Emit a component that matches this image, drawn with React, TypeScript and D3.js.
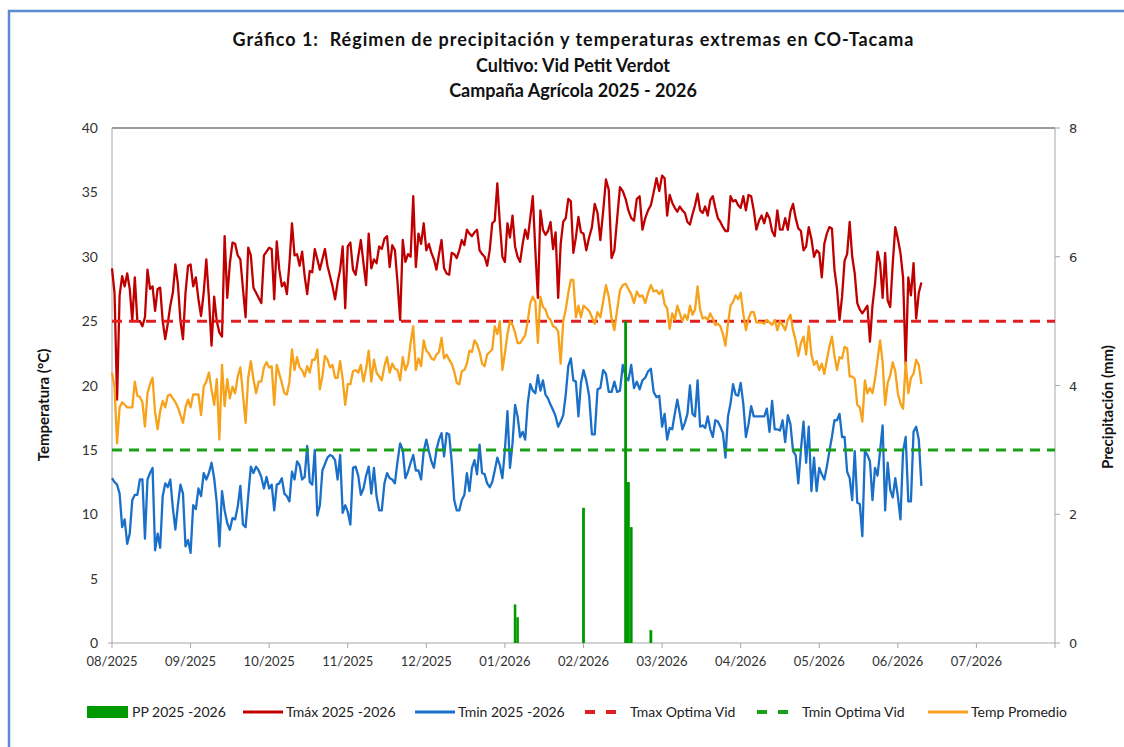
import React from 'react';
import * as d3 from 'd3';

// daily series, starting 2025-08-01
const startDate = new Date(2025, 7, 1);

const tmax: number[] = [
  29.1, 27.2, 18.9, 27.0, 28.5, 27.7, 28.7, 27.5, 25.0, 28.4,
  25.0, 25.0, 24.6, 25.3, 29.0, 27.5, 27.7, 25.8, 27.5, 27.6,
  25.0, 23.6, 24.8, 26.2, 27.2, 29.4, 27.9, 25.0, 23.6, 27.2,
  29.3, 29.4, 27.7, 28.4, 26.7, 25.4, 27.2, 29.8, 26.8, 23.1,
  26.9, 25.0, 24.1, 23.8, 31.6, 26.8, 29.5, 31.1, 31.0, 30.1,
  29.8, 27.5, 25.3, 30.7, 30.1, 27.6, 27.2, 26.8, 26.4, 30.1,
  30.4, 30.7, 30.6, 26.7, 31.2, 29.0, 27.7, 28.0, 27.1, 29.5,
  32.6, 30.1, 30.2, 29.3, 30.4, 28.5, 27.1, 28.9, 28.8, 30.6,
  29.8, 29.0, 29.8, 30.6, 29.3, 28.5, 27.7, 26.7, 28.0, 29.0,
  30.8, 26.0, 30.8, 31.1, 29.0, 28.6, 30.0, 31.3, 29.5, 27.8,
  31.8, 29.1, 29.8, 29.5, 30.8, 30.6, 31.4, 31.6, 29.2, 30.9,
  30.5, 28.0, 25.1, 31.3, 29.6, 30.2, 30.0, 34.7, 29.2, 31.8,
  31.0, 32.6, 30.5, 31.0, 30.3, 29.8, 29.0, 30.2, 31.3, 29.1,
  28.7, 28.6, 30.3, 30.2, 29.9, 30.5, 31.3, 30.9, 32.1, 31.8,
  31.6, 31.9, 32.1, 30.5, 30.2, 30.0, 29.3, 30.5, 32.6, 32.8,
  35.7, 32.6, 30.0, 29.6, 32.6, 31.5, 33.2, 30.8, 30.0, 29.6,
  31.0, 32.1, 31.4, 33.0, 34.7, 30.5, 26.8, 33.6, 32.1, 31.7,
  32.0, 32.7, 30.6, 31.9, 26.8, 31.0, 32.7, 33.0, 34.5, 34.3,
  30.3, 31.5, 33.1, 31.9, 31.8, 30.5, 31.5, 32.3, 34.1, 33.4,
  31.3, 33.5, 36.0, 35.2, 29.9, 30.5, 33.0, 35.4, 35.1, 34.5,
  33.6, 33.0, 32.8, 34.5, 34.7, 32.1, 33.0, 33.6, 34.0, 35.0,
  36.1, 35.1, 36.3, 36.1, 33.2, 34.8, 34.2, 33.8, 33.5, 33.9,
  33.6, 33.4, 32.7, 32.5, 33.3, 34.0, 34.9, 33.6, 33.4, 33.9,
  33.2, 34.4, 34.7, 33.8, 33.0, 32.7, 32.3, 32.0, 32.0, 34.7,
  34.3, 34.4, 34.0, 33.8, 34.7, 33.6, 34.8, 34.7, 33.6, 32.1,
  32.8, 33.2, 32.6, 33.4, 33.0, 32.0, 31.6, 33.6, 32.1, 32.1,
  33.0, 32.1, 33.5, 34.1, 33.0, 32.2, 32.0, 30.5, 30.8, 32.3,
  31.4, 30.0, 30.5, 30.3, 28.4, 31.0, 31.8, 32.3, 32.2, 29.0,
  27.5, 25.1, 26.9, 29.7, 30.2, 32.7, 30.0, 28.7, 26.4, 25.9,
  25.6, 25.9, 26.2, 23.4, 26.2, 27.9, 30.4, 29.5, 26.8, 30.3,
  26.6, 26.1, 29.5, 32.3, 31.4, 30.3, 28.4, 21.6, 28.4, 27.0,
  29.5, 25.2, 27.2, 28.0,
];

const tmin: number[] = [
  12.8, 12.5, 12.3, 11.6, 9.0, 9.6, 7.7, 8.5, 11.1, 11.5,
  11.5, 12.7, 12.7, 8.1, 12.7, 13.2, 13.6, 7.2, 8.5, 7.4,
  11.4, 12.4, 12.1, 12.7, 10.5, 8.8, 10.7, 12.3, 11.6, 7.5,
  8.0, 7.0, 10.7, 10.4, 12.0, 11.4, 13.2, 12.7, 13.2, 14.0,
  12.8, 10.9, 7.5, 11.8, 10.3, 9.3, 8.8, 9.7, 9.6, 10.6,
  12.2, 9.2, 9.0, 11.4, 13.7, 13.2, 13.7, 13.4, 12.9, 12.0,
  12.9, 12.0, 12.3, 10.3, 12.3, 12.4, 12.8, 11.6, 11.4, 11.0,
  13.3, 12.7, 14.1, 13.8, 12.7, 12.9, 15.3, 12.5, 12.3, 15.0,
  9.9, 10.7, 13.4, 13.9, 14.4, 14.6, 14.5, 14.2, 12.7, 14.6,
  10.1, 10.7, 10.2, 9.2, 13.6, 13.7, 13.0, 11.5, 12.0, 13.0,
  13.7, 11.6, 13.6, 11.4, 10.3, 10.3, 12.4, 13.2, 12.8, 12.7,
  12.4, 14.1, 15.5, 15.0, 12.8, 13.3, 14.0, 14.6, 13.4, 13.4,
  12.7, 14.9, 15.8, 14.9, 14.1, 13.6, 15.0, 15.8, 16.3, 14.5,
  16.3, 16.2, 14.1, 11.1, 10.3, 10.3, 11.1, 11.5, 13.2, 11.8,
  13.6, 14.2, 13.1, 15.4, 13.2, 13.1, 12.4, 12.1, 12.5, 13.4,
  14.4, 13.8, 12.8, 15.0, 18.0, 13.6, 15.5, 18.5, 17.6, 16.0,
  16.4, 15.8, 18.6, 20.1, 19.6, 19.4, 20.8, 19.6, 20.4, 19.3,
  19.0, 18.5, 18.1, 17.6, 16.8, 17.2, 17.7, 19.3, 21.5, 22.1,
  20.4, 20.3, 17.6, 20.2, 21.2, 20.4, 19.2, 16.2, 16.2, 19.7,
  19.8, 21.2, 20.9, 19.5, 19.5, 20.3, 19.5, 19.6, 21.6, 20.7,
  20.4, 21.6, 19.8, 20.3, 19.7, 20.4, 20.6, 21.1, 21.3, 19.5,
  19.1, 19.2, 16.8, 17.8, 15.8, 16.7, 16.6, 17.8, 18.9, 17.8,
  16.6, 17.1, 17.8, 20.0, 17.8, 17.6, 20.4, 16.8, 16.9, 16.7,
  17.6, 16.6, 16.0, 17.3, 17.2, 16.8, 16.3, 14.4, 17.6, 18.6,
  20.1, 19.3, 19.2, 20.2, 18.6, 16.0, 17.0, 18.4, 17.6, 17.6,
  17.6, 17.6, 17.6, 18.2, 16.4, 18.8, 16.6, 16.6, 16.5, 17.3,
  15.6, 17.7, 17.0, 14.9, 14.6, 12.4, 15.0, 17.2, 14.0, 16.8,
  11.8, 14.4, 11.8, 13.6, 13.1, 12.7, 13.7, 14.9, 16.0, 17.3,
  17.3, 17.8, 16.0, 16.0, 13.3, 12.8, 11.1, 14.9, 10.9, 10.8,
  8.3, 14.9, 14.6, 14.1, 11.1, 13.6, 13.0, 14.9, 16.9, 10.3,
  14.0, 11.9, 11.3, 12.8, 11.4, 9.6, 14.9, 16.0, 11.0, 11.0,
  16.4, 16.8, 15.8, 12.2,
];

const tprom: number[] = [
  21.0, 19.9, 15.5, 18.3, 18.7, 18.5, 18.3, 18.3, 18.3, 20.3,
  19.2, 19.1, 18.7, 16.8, 19.4, 20.1, 20.6, 17.9, 16.6, 18.0,
  18.8, 18.3, 19.2, 19.3, 19.0, 18.7, 18.3, 17.7, 17.1, 18.3,
  18.9, 18.3, 19.3, 19.3, 19.3, 17.7, 19.9, 20.3, 21.0, 19.7,
  18.5, 20.5, 15.8, 21.6, 18.4, 20.5, 19.0, 19.9, 19.4, 20.7,
  21.4, 19.3, 17.1, 20.6, 21.9, 20.5, 19.4, 20.3, 20.3, 21.4,
  21.8, 21.4, 21.5, 18.5, 21.6, 20.9, 20.2, 19.4, 19.3, 20.3,
  22.8, 21.2, 22.2, 21.4, 21.2, 20.7, 21.5, 21.0, 22.0, 22.0,
  22.8, 19.7, 20.7, 22.3, 22.0, 21.4, 21.6, 20.6, 20.6, 21.9,
  20.5, 18.5, 20.1, 20.1, 21.1, 21.2, 21.0, 21.6, 20.3, 21.3,
  22.7, 20.3, 22.0, 21.0, 20.7, 20.4, 21.5, 22.2, 21.0, 21.7,
  21.3, 21.2, 20.4, 22.2, 21.2, 21.7, 23.3, 24.6, 21.2, 22.1,
  21.5, 23.5, 22.7, 22.5, 22.1, 22.0, 22.4, 22.6, 23.7, 22.1,
  22.4, 22.0, 21.7, 21.1, 20.2, 20.1, 21.1, 21.2, 21.7, 22.7,
  22.6, 23.5, 23.2, 22.6, 21.7, 21.5, 22.4, 22.6, 22.8, 24.6,
  24.0, 25.0, 21.2, 22.5, 24.0, 25.0, 24.7, 24.1, 23.3, 23.3,
  23.6, 23.9, 25.0, 26.4, 26.9, 26.5, 23.3, 26.9, 26.1, 25.9,
  25.3, 25.1, 24.6, 24.5, 24.2, 21.7, 25.0, 25.9, 27.2, 28.2,
  28.2, 25.3, 26.2, 25.3, 26.2, 26.0, 25.8, 25.3, 24.8, 25.7,
  25.3, 26.5, 27.8, 26.9, 25.2, 24.3, 25.9, 27.4, 27.8, 27.9,
  27.5, 27.1, 26.4, 27.3, 26.9, 27.0, 26.4, 27.2, 27.8, 27.3,
  27.4, 27.1, 27.4, 26.3, 26.0, 24.4, 25.6, 25.1, 26.2, 25.6,
  25.0, 25.5, 25.1, 26.2, 25.5, 25.9, 27.7, 25.9, 25.2, 25.3,
  25.1, 25.6, 25.2, 24.7, 24.8, 24.6, 24.0, 23.1, 24.8, 26.2,
  26.5, 27.0, 26.7, 27.2, 25.6, 24.3, 25.2, 25.7, 25.7, 24.9,
  24.9, 24.9, 24.8, 25.1, 24.9, 24.7, 25.1, 24.3, 25.0, 24.7,
  24.3, 25.1, 25.5, 24.3, 23.5, 22.3, 23.3, 23.8, 22.4, 24.6,
  22.4, 21.6, 21.9, 21.2, 21.7, 20.9, 22.0, 23.0, 23.8, 22.3,
  21.2, 22.2, 22.1, 23.0, 22.9, 20.7, 20.7, 20.5, 18.5, 18.3,
  17.2, 20.4, 19.4, 19.8, 19.4, 20.5, 22.0, 23.5, 21.8, 18.5,
  20.2, 20.8, 21.8, 21.1, 19.4, 18.6, 18.2, 21.8, 19.4, 20.6,
  20.9, 22.0, 21.6, 20.1,
];

const ppDates = ['2026-01-05', '2026-01-06', '2026-02-01', '2026-02-16', '2026-02-17', '2026-02-18', '2026-02-25'];
const ppValues = [0.6, 0.4, 2.1, 5.0, 2.5, 1.8, 0.2];

const tmaxOptima = 25;
const tminOptima = 15;

const tempTicks = [0, 5, 10, 15, 20, 25, 30, 35, 40];
const ppTicks = [0, 2, 4, 6, 8];

const titleLines = [
  'Gráfico 1:  Régimen de precipitación y temperaturas extremas en CO-Tacama',
  'Cultivo: Vid Petit Verdot',
  'Campaña Agrícola 2025 - 2026',
];

const COLORS = {
  pp: '#009a00',
  tmax: '#c00000',
  tmin: '#1a6fc9',
  tmaxOpt: '#e02020',
  tminOpt: '#18a018',
  tprom: '#f7a21b',
};

const FONT = "Lato, 'Open Sans', sans-serif";

const App: React.FC = () => {
  const width = 1124;
  const height = 747;
  const margin = { top: 128, right: 69, bottom: 104, left: 112 };
  const plotW = width - margin.left - margin.right;
  const plotH = height - margin.top - margin.bottom;

  // monthly ticks equally spaced, days placed linearly within each month
  const monthStarts = d3.timeMonth.range(new Date(2025, 7, 1), new Date(2026, 8, 1));
  const x = d3.scaleTime()
    .domain(monthStarts)
    .range(monthStarts.map((_, i) => margin.left + (i * plotW) / 12));

  const y = d3.scaleLinear().domain([0, 40]).range([margin.top + plotH, margin.top]);
  const y2 = d3.scaleLinear().domain([0, 8]).range([margin.top + plotH, margin.top]);

  const dates = tmax.map((_, i) => d3.timeDay.offset(startDate, i));
  const parse = d3.timeParse('%Y-%m-%d');
  const fmt = d3.timeFormat('%m/%Y');

  const line = d3.line<number>()
    .x((_, i) => x(dates[i]))
    .y(d => y(d));

  const x0 = margin.left;
  const x1 = margin.left + plotW;
  const yBase = margin.top + plotH;

  const legend = [
    { kind: 'rect', color: COLORS.pp, label: 'PP 2025 -2026', x: 87 },
    { kind: 'line', color: COLORS.tmax, label: 'Tmáx 2025 -2026', x: 243 },
    { kind: 'line', color: COLORS.tmin, label: 'Tmin 2025 -2026', x: 415 },
    { kind: 'dash', color: COLORS.tmaxOpt, label: 'Tmax Optima Vid', x: 585 },
    { kind: 'dash', color: COLORS.tminOpt, label: 'Tmin Optima Vid', x: 757 },
    { kind: 'line', color: COLORS.tprom, label: 'Temp Promedio', x: 928 },
  ];

  return (
    <svg
      width={width}
      height={height}
      style={{ position: 'absolute', left: 0, top: 0, background: '#fff' }}
      fontFamily={FONT}
    >
      <rect x={0} y={0} width={width} height={height} fill="#fff" />
      <rect x={9} y={11} width={width + 20} height={height + 20} fill="none" stroke="#5b8bd2" strokeWidth={2.5} />

      {/* title */}
      {titleLines.map((t, i) => (
        <text
          key={i}
          x={573}
          y={46 + i * 25.5}
          textAnchor="middle"
          fontSize={18}
          fontWeight="bold"
          fill="#111"
          xmlSpace="preserve"
          style={{ whiteSpace: 'pre' }}
          textLength={i === 0 ? 681 : undefined}
          lengthAdjust="spacing"
        >
          {t}
        </text>
      ))}

      {/* axes */}
      <line x1={x0} x2={x1} y1={margin.top} y2={margin.top} stroke="#3a3a3a" strokeWidth={1} />
      <line x1={x0} x2={x0} y1={margin.top} y2={yBase} stroke="#a6a6a6" strokeWidth={1} />
      <line x1={x1} x2={x1} y1={margin.top} y2={yBase} stroke="#a6a6a6" strokeWidth={1} />
      <line x1={x0 - 4} x2={x1} y1={yBase} y2={yBase} stroke="#a6a6a6" strokeWidth={1} />

      {tempTicks.map(t => (
        <text key={t} x={98} y={y(t) + 5} textAnchor="end" fontSize={14} fill="#333">{t}</text>
      ))}
      {ppTicks.map(t => (
        <g key={t}>
          <line x1={x1} x2={x1 + 5} y1={y2(t)} y2={y2(t)} stroke="#a6a6a6" />
          <text x={1069} y={y2(t) + 5} fontSize={13} fill="#333" fontFamily="'DejaVu Sans', sans-serif">{t}</text>
        </g>
      ))}
      {monthStarts.map((m, i) => (
        <g key={i}>
          <line x1={x(m)} x2={x(m)} y1={yBase} y2={yBase + 5} stroke="#a6a6a6" />
          {i < 12 && (
            <text x={x(m)} y={yBase + 23} textAnchor="middle" fontSize={13} fill="#333">{fmt(m)}</text>
          )}
        </g>
      ))}

      <text transform={`translate(49,405) rotate(-90)`} textAnchor="middle" fontSize={15} fontWeight="bold" fill="#111">
        Temperatura (°C)
      </text>
      <text transform={`translate(1113,407) rotate(-90)`} textAnchor="middle" fontSize={15} fontWeight="bold" fill="#111">
        Precipitación (mm)
      </text>

      {/* series */}
      <path d={line(tmax) ?? ''} fill="none" stroke={COLORS.tmax} strokeWidth={2.3} strokeLinejoin="round" />
      <path d={line(tmin) ?? ''} fill="none" stroke={COLORS.tmin} strokeWidth={2.3} strokeLinejoin="round" />
      <line x1={x0} x2={x1} y1={y(tmaxOptima)} y2={y(tmaxOptima)} stroke={COLORS.tmaxOpt} strokeWidth={3} strokeDasharray="10,7" />
      <line x1={x0} x2={x1} y1={y(tminOptima)} y2={y(tminOptima)} stroke={COLORS.tminOpt} strokeWidth={3} strokeDasharray="10,7" />
      <path d={line(tprom) ?? ''} fill="none" stroke={COLORS.tprom} strokeWidth={2.3} strokeLinejoin="round" />

      {ppDates.map((ds, i) => {
        const d = parse(ds) as Date;
        const cx = x(d);
        const w = x(d3.timeDay.offset(d, 1)) - cx;
        return (
          <rect key={ds} x={cx - w / 2} y={y2(ppValues[i])} width={w} height={yBase - y2(ppValues[i])} fill={COLORS.pp} />
        );
      })}

      {/* legend */}
      {legend.map(item => (
        <g key={item.label}>
          {item.kind === 'rect' && <rect x={item.x} y={706} width={41} height={12} fill={item.color} />}
          {item.kind === 'line' && <line x1={item.x} x2={item.x + 40} y1={712} y2={712} stroke={item.color} strokeWidth={3} />}
          {item.kind === 'dash' && <line x1={item.x} x2={item.x + 32} y1={712} y2={712} stroke={item.color} strokeWidth={4} strokeDasharray="10,11" />}
          <text
            x={item.kind === 'rect' ? item.x + 45 : item.kind === 'dash' ? item.x + 45 : item.x + 43}
            y={717}
            fontSize={14}
            fill="#222"
          >
            {item.label}
          </text>
        </g>
      ))}
    </svg>
  );
};

export default App;
